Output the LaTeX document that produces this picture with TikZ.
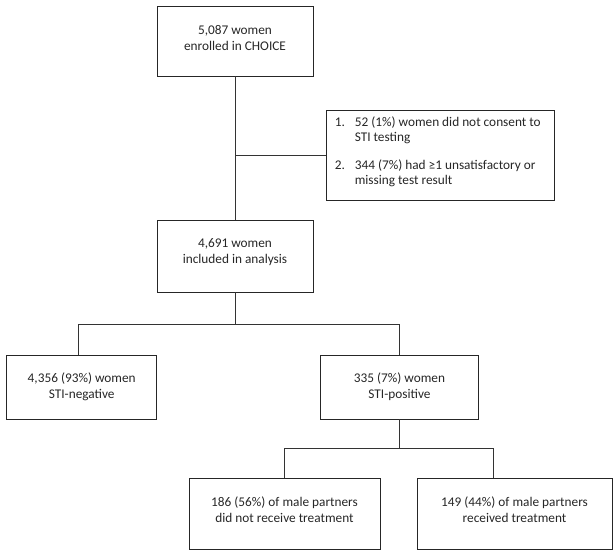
\documentclass[tikz,border=0pt]{standalone}
\usepackage{fontspec}
\setmainfont{Carlito}
\begin{document}
\begin{tikzpicture}[x=1bp,y=-1bp,
  box/.style 2 args={draw=black!85,line width=0.8bp,minimum width=#1,minimum height=#2,inner sep=0pt},
  lbl/.style={font=\fontsize{13.3bp}{16bp}\selectfont,text=black!85,align=center,inner sep=0pt},
  conn/.style={draw=black!80,line width=0.8bp}]
\useasboundingbox (0,0) rectangle (615,556);
% boxes
\node[box={156bp}{70bp},label={[lbl,name=t1,yshift=3bp]center:5,087 women\\enrolled in CHOICE}] (b1) at (235,41) {};
\node[box={228bp}{90bp}] (excl) at (440,155) {};
\node[anchor=north west,inner sep=0pt,text=black!85,font=\fontsize{13.3bp}{15bp}\selectfont,name=tx]
  at ([xshift=9bp,yshift=-6bp]excl.north west)
  {\begin{tabular}{@{}p{20bp}@{}l@{}}1. & 52 (1\%) women did not consent to\\ & STI testing\\[13bp]
   2. & 344 (7\%) had ≥1 unsatisfactory or\\ & missing test result\end{tabular}};
\node[box={156bp}{72bp},label={[lbl,name=t2,yshift=4bp]center:4,691 women\\included in analysis}] (b2) at (235,256) {};
\node[box={150bp}{64bp},label={[lbl,name=t3]center:4,356 (93\%) women\\STI-negative}] (neg) at (81.7,387) {};
\node[box={158bp}{64bp},label={[lbl,name=t4]center:335 (7\%) women\\STI-positive}] (pos) at (399.5,387) {};
\node[box={191bp}{71bp},label={[lbl,name=t5,yshift=3.5bp]center:186 (56\%) of male partners\\did not receive treatment}] (m1) at (284.5,513.5) {};
\node[box={195bp}{71bp},label={[lbl,name=t6,yshift=3.5bp]center:149 (44\%) of male partners\\received treatment}] (m2) at (514.5,513.5) {};
% junctions
\coordinate (j1) at (235,324);
\coordinate (j2) at (399.5,448);
\coordinate (nt) at ([xshift=-3.5bp]neg.north);
\coordinate (mt) at ([xshift=-21.5bp]m2.north);
% connectors
\draw[conn] (b1.south) -- (b2.north);
\draw[conn] (b1.south |- excl.west) -- (excl.west);
\draw[conn] (b2.south) -- (j1);
\draw[conn] (nt) -- (nt |- j1) -- (j1 -| pos.north) -- (pos.north);
\draw[conn] (pos.south) -- (j2);
\draw[conn] (m1.north) -- (m1.north |- j2) -- (mt |- j2) -- (mt);
\end{tikzpicture}
\end{document}
